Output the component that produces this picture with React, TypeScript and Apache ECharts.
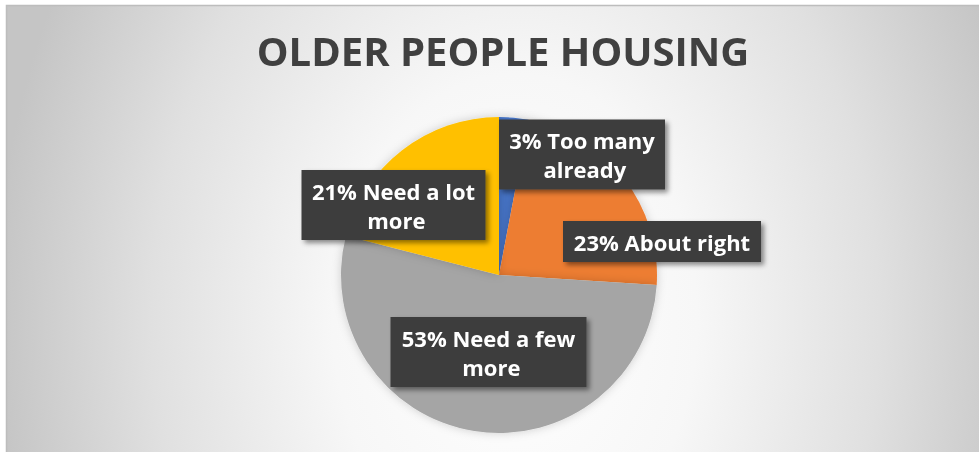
import React, { useEffect, useRef } from "react";
import * as echarts from "echarts";

const titleText = "OLDER PEOPLE HOUSING";
const categories = ["Too many already", "About right", "Need a few more", "Need a lot more"];
const values = [3, 23, 53, 21];
const colors = ["#4472c4", "#ed7d31", "#a5a5a5", "#ffc000"];
// label box inner widths and centres (layout only)
const labelWidths = [146, 178, 176, 164];
const labelCentres: [number, number][] = [
  [582, 154.5],
  [662, 241.5],
  [488.5, 352],
  [393.5, 205],
];

export default function App() {
  const ref = useRef<HTMLDivElement>(null);
  useEffect(() => {
    if (!ref.current) return;
    const chart = echarts.init(ref.current, undefined, { renderer: "svg" });
    const s = 1.35; // vertical stretch of background gradient
    const rx = 520;
    const cx = 515;
    const cy = 320;
    chart.setOption({
      animation: false,
      graphic: [
        {
          type: "rect",
          z: -10,
          silent: true,
          scaleY: s,
          shape: { x: 6, y: 5 / s, width: 990, height: 470 / s },
          style: {
            fill: new echarts.graphic.RadialGradient(
              cx,
              cy / s,
              rx,
              [
                { offset: 0, color: "#ffffff" },
                { offset: 0.35, color: "#f7f7f7" },
                { offset: 0.7, color: "#e0e0e0" },
                { offset: 1, color: "#c5c5c5" },
              ],
              true
            ),
          },
        },
        {
          type: "rect",
          z: -9,
          silent: true,
          shape: { x: 6.5, y: 5.5, width: 990, height: 470 },
          style: { fill: "none", stroke: "#bdbdbd", lineWidth: 1.5 },
        },
      ],
      title: {
        text: titleText,
        left: 498,
        textAlign: "center",
        top: 25,
        textStyle: {
          fontFamily: "Open Sans",
          fontWeight: "bold",
          fontSize: 40,
          color: "#404040",
        },
      },
      series: [
        {
          type: "pie",
          center: [499, 275],
          radius: 158,
          startAngle: 90,
          clockwise: true,
          percentPrecision: 0,
          itemStyle: {
            shadowBlur: 10,
            shadowColor: "rgba(0,0,0,0.18)",
          },
          labelLine: { show: false },
          label: {
            show: true,
            position: "inside",
            formatter: (p: any) => `${p.percent}% ${p.name}`,
            fontFamily: "Open Sans",
            fontWeight: "bold",
            fontSize: 22,
            lineHeight: 29,
            color: "#ffffff",
            align: "center",
            overflow: "break",
            backgroundColor: "#3d3d3d",
            padding: [6, 10, 6, 10],
            shadowColor: "rgba(0,0,0,0.45)",
            shadowBlur: 5,
            shadowOffsetX: 3,
            shadowOffsetY: 3,
          },
          labelLayout: (params: any) => {
            const c = labelCentres[params.dataIndex];
            return { x: c[0], y: c[1], align: "center", verticalAlign: "middle" };
          },
          data: categories.map((name, i) => ({
            name,
            value: values[i],
            itemStyle: { color: colors[i] },
            label: { width: labelWidths[i] },
          })),
        },
      ],
    });
    return () => chart.dispose();
  }, []);
  return (
    <div
      ref={ref}
      style={{ position: "fixed", left: 0, top: 0, width: 979, height: 452 }}
    />
  );
}
